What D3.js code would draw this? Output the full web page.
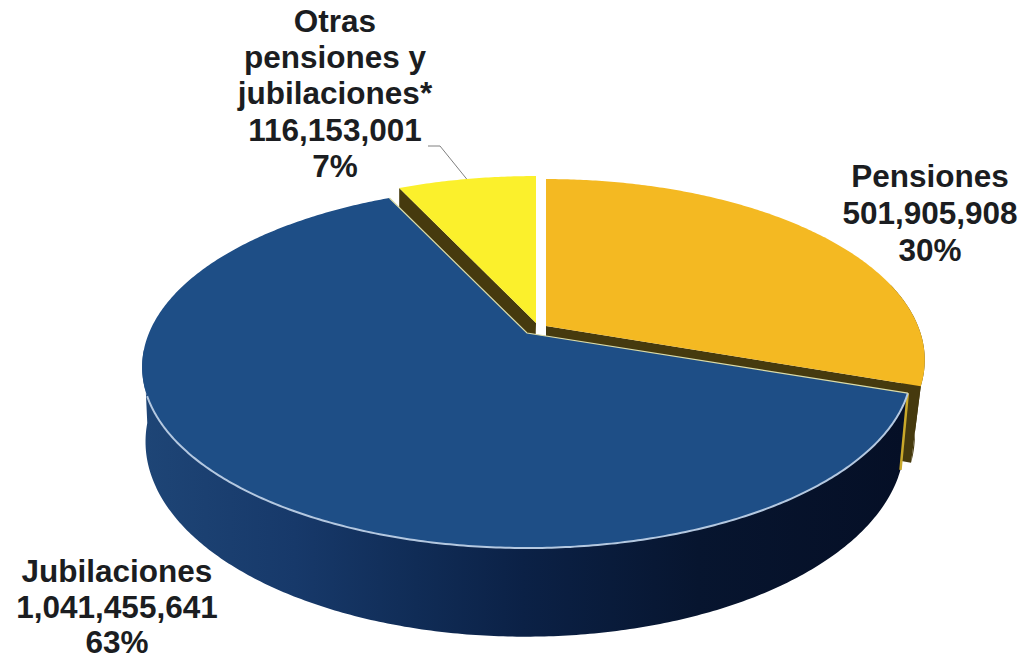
<!DOCTYPE html>
<html><head><meta charset="utf-8">
<script src="https://cdn.jsdelivr.net/npm/d3@7/dist/d3.min.js"></script>
<style>html,body{margin:0;background:#fff}svg{display:block}text{font-family:"Liberation Sans",Arial,sans-serif;font-weight:700;fill:#1b1d21;font-size:31.5px;text-anchor:middle}</style>
</head><body><svg id="c" width="1024" height="660"></svg>
<script>
const categories = ["Pensiones", "Jubilaciones", "Otras pensiones y jubilaciones*"];
const values = [501905908, 1041455641, 116153001];
const valueLabels = ["501,905,908", "1,041,455,641", "116,153,001"];
const percentLabels = ["30%", "63%", "7%"];
const topColors = ["#f4b922", "#1e4e86", "#fbf02c"];
const labelLines = [["Pensiones"], ["Jubilaciones"], ["Otras", "pensiones y", "jubilaciones*"]];
const labelAnchors = [[930, 187, 37], [117, 582, 35.5], [335, 32, 36.2]];
const apexes = [[546, 326], [527, 333], [536, 323]];
const radiiX = [372, 378, 376];
const bottomShrink = [0.974, 0.986, 0.986];
const bottomShift = [0, -2, -2];

const svg = d3.select("#c");
const B = 174.6, P = 0.188, D0 = 72;
const pie = d3.pie().sort(null).value(d => d)(values);

function project(idx, th, r, bottom) {
  const apex = apexes[idx];
  const u = r * Math.sin(th), v = r * Math.cos(th), w = 1 + P * v;
  const x = radiiX[idx] * u / w, y = -B * v / w;
  return bottom
    ? [apex[0] + x * bottomShrink[idx] + bottomShift[idx], apex[1] + y + D0 / w]
    : [apex[0] + x, apex[1] + y];
}
const line = d3.line();
function arcPts(idx, a0, a1, bottom) {
  const n = Math.max(2, Math.ceil((a1 - a0) / 0.01));
  return d3.range(n + 1).map(i => project(idx, a0 + (a1 - a0) * i / n, 1, bottom));
}
function sector(idx, a0, a1) { return line([apexes[idx], ...arcPts(idx, a0, a1, false)]) + "Z"; }
function rim(idx, a0, a1) {
  return line([...arcPts(idx, a0, a1, false), ...arcPts(idx, a0, a1, true).reverse()]) + "Z";
}
function cut(idx, a) {
  return line([apexes[idx], project(idx, a, 1, false), project(idx, a, 1, true), project(idx, 0, 0, true)]) + "Z";
}

const defs = svg.append("defs");
const g = defs.append("linearGradient").attr("id", "blueWall")
  .attr("gradientUnits", "userSpaceOnUse").attr("x1", 142).attr("x2", 905).attr("y1", 0).attr("y2", 0);
[[0, "#1e4576"], [0.2, "#17396a"], [0.36, "#102c56"], [0.5, "#0b2146"], [0.73, "#07152f"], [1, "#050f26"]]
  .forEach(s => g.append("stop").attr("offset", s[0]).attr("stop-color", s[1]));

const WALL = "#463a0e";
const [pen, jub, otr] = pie;

// Orange wedge
svg.append("path").attr("d", cut(0, pen.endAngle)).attr("fill", WALL);
svg.append("path").attr("d", rim(0, Math.PI / 2 - 0.25, pen.endAngle)).attr("fill", WALL);
svg.append("path").attr("d", sector(0, pen.startAngle, pen.endAngle)).attr("fill", topColors[0]);

// Yellow wedge
svg.append("path").attr("d", cut(2, otr.startAngle)).attr("fill", WALL);
svg.append("path").attr("d", sector(2, otr.startAngle, otr.endAngle)).attr("fill", topColors[2]);

// Blue wedge
svg.append("path").attr("d", rim(1, jub.startAngle, Math.PI * 1.47)).attr("fill", "url(#blueWall)");
svg.append("path").attr("d", line([project(1, jub.startAngle, 1, false), project(1, jub.startAngle, 1, true)]))
  .attr("stroke", "#c9a82a").attr("stroke-width", 2.5).attr("fill", "none");
svg.append("path").attr("d", sector(1, jub.startAngle, jub.endAngle)).attr("fill", topColors[1]);
svg.append("path").attr("d", line(arcPts(1, jub.startAngle, Math.PI * 1.39, false)))
  .attr("fill", "none").attr("stroke", "#b4c8e0").attr("stroke-width", 2);
svg.append("path").attr("d", line([project(1, jub.endAngle, 1, false), apexes[1], project(1, jub.startAngle, 1, false)]))
  .attr("fill", "none").attr("stroke", "#dcdca8").attr("stroke-width", 1.2);

// Leader line
const tip = project(2, (otr.startAngle + otr.endAngle) / 2, 1, false);
svg.append("path").attr("d", line([[428, 146], [440, 146], tip]))
  .attr("fill", "none").attr("stroke", "#808080").attr("stroke-width", 1);

// Labels
pie.forEach((d, i) => {
  const lines = [...labelLines[i], valueLabels[i], percentLabels[i]];
  lines.forEach((t, k) => {
    svg.append("text").attr("x", labelAnchors[i][0]).attr("y", labelAnchors[i][1] + k * labelAnchors[i][2]).text(t);
  });
});
</script></body></html>
